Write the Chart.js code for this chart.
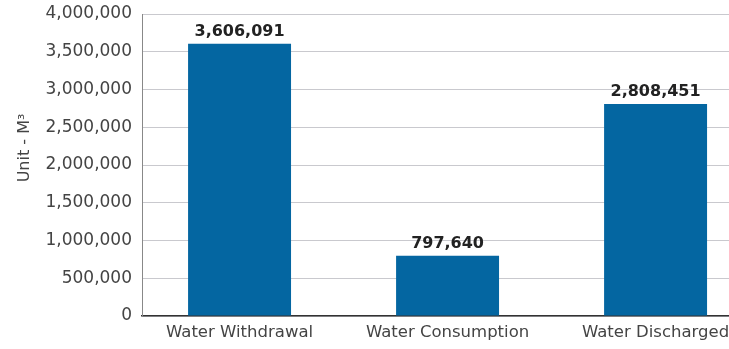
<!DOCTYPE html>
<html>
<head>
<meta charset="utf-8">
<script src="https://cdn.jsdelivr.net/npm/chart.js@4/dist/chart.umd.min.js"></script>
<style>
    html, body { margin: 0; padding: 0; background: #fff; overflow: hidden; }
</style>
</head>
<body>
<canvas id="chart1" width="729" height="349"></canvas>
<script>
const categories = ['Water Withdrawal', 'Water Consumption', 'Water Discharged'];
const waterValues = [3606091, 797640, 2808451];
const yTicks = [0, 500000, 1000000, 1500000, 2000000, 2500000, 3000000, 3500000, 4000000];
const yTitle = 'Unit - M³';

const barColor = '#0466a1';
const textColor = '#444';
const fontFamily = '"DejaVu Sans", sans-serif';

// values above each bar, plus the rotated unit label on the left
const valueLabels = {
    id: 'valueLabels',
    afterDatasetsDraw(chart) {
        const ctx = chart.ctx;
        const meta = chart.getDatasetMeta(0);
        ctx.save();
        ctx.font = 'bold 16px ' + fontFamily;
        ctx.fillStyle = '#222';
        ctx.textAlign = 'center';
        ctx.textBaseline = 'alphabetic';
        meta.data.forEach((bar, i) => {
            ctx.fillText(waterValues[i].toLocaleString('en-US'), bar.x, bar.y - 8);
        });

        ctx.translate(25, 148);
        ctx.rotate(-Math.PI / 2);
        ctx.font = '16px ' + fontFamily;
        ctx.fillStyle = textColor;
        ctx.textBaseline = 'middle';
        ctx.fillText(yTitle, 0, 0);
        ctx.restore();
    }
};

document.addEventListener("DOMContentLoaded", function () {
    const canvas = document.getElementById("chart1");

    new Chart(canvas, {
        type: 'bar',
        data: {
            datasets: [{
                data: waterValues.map((v, i) => ({ x: i, y: v })),
                backgroundColor: barColor,
                categoryPercentage: 1,
                barPercentage: 0.495
            }]
        },
        options: {
            responsive: false,
            animation: false,
            layout: { padding: { top: 14, right: 0, left: 0, bottom: 0 } },
            plugins: {
                legend: { display: false },
                tooltip: { enabled: false }
            },
            scales: {
                x: {
                    type: 'linear',
                    offset: false,
                    min: -0.469,
                    max: 2.353,
                    afterBuildTicks(scale) {
                        scale.ticks = categories.map((c, i) => ({ value: i }));
                    },
                    afterFit(scale) {
                        scale.height = 33;
                        scale.paddingLeft = 0;
                        scale.paddingRight = 0;
                    },
                    grid: { display: false, drawTicks: false, offset: false },
                    border: { display: true, color: '#333', width: 1.5 },
                    ticks: {
                        color: textColor,
                        font: { family: fontFamily, size: 16.5 },
                        padding: 7,
                        maxRotation: 0,
                        autoSkip: false,
                        callback: (v) => categories[v] || ''
                    }
                },
                y: {
                    min: 0,
                    max: 4000000,
                    afterBuildTicks(scale) {
                        scale.ticks = yTicks.map(v => ({ value: v }));
                    },
                    afterFit(scale) {
                        scale.width = 142;
                        scale.paddingTop = 0;
                        scale.paddingBottom = 0;
                    },
                    grid: { color: '#c9c9ce', drawTicks: false },
                    border: { display: true, color: '#888', width: 1 },
                    ticks: {
                        color: textColor,
                        font: { family: fontFamily, size: 17 },
                        padding: 10,
                        callback: (v) => v.toLocaleString('en-US')
                    }
                }
            }
        },
        plugins: [valueLabels]
    });
});
</script>
</body>
</html>
